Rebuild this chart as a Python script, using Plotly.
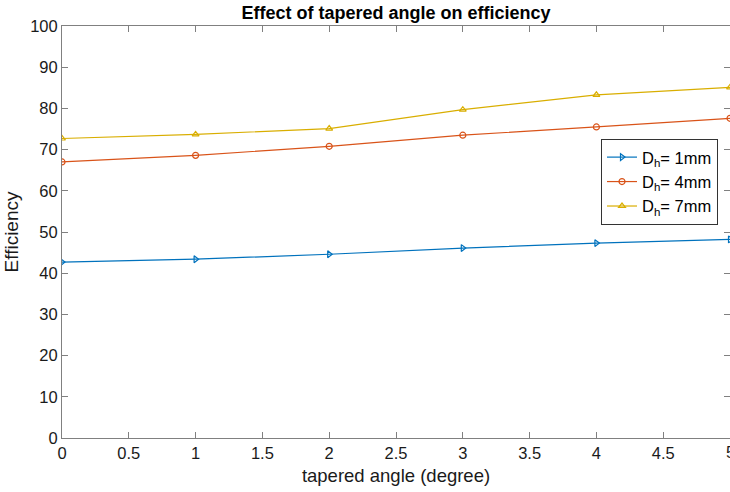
import plotly.graph_objects as go

angles = [0, 1, 2, 3, 4, 5]
eff_1mm = [42.7, 43.4, 44.6, 46.1, 47.3, 48.2]
eff_4mm = [67.0, 68.6, 70.8, 73.5, 75.5, 77.6]
eff_7mm = [72.7, 73.7, 75.1, 79.7, 83.3, 85.1]
names = ["D<sub>h</sub>= 1mm", "D<sub>h</sub>= 4mm", "D<sub>h</sub>= 7mm"]
colors = ["#0072BD", "#D95319", "#D9AE00"]
symbols = ["triangle-right-open", "circle-open", "triangle-up-open"]
x_ticks = [0, 0.5, 1, 1.5, 2, 2.5, 3, 3.5, 4, 4.5]
x_ticktext = ["0", "0.5", "1", "1.5", "2", "2.5", "3", "3.5", "4", "4.5"]
y_ticks = list(range(0, 101, 10))

fig = go.Figure()
for ys, nm, c, s in zip([eff_1mm, eff_4mm, eff_7mm], names, colors, symbols):
    fig.add_trace(go.Scatter(x=angles, y=ys, name=nm, mode="lines+markers",
                             line=dict(color=c, width=1.2),
                             marker=dict(symbol=s, size=6, color=c, line=dict(width=1.2, color=c))))

axis_common = dict(showline=True, linecolor="#808080", linewidth=1, mirror="allticks",
                   ticks="inside", ticklen=6, tickcolor="#808080", showgrid=False, zeroline=False,
                   tickfont=dict(size=16.5, color="#1a1a1a"))
fig.update_layout(
    width=730, height=492,
    margin=dict(l=62, r=0, t=26, b=54, autoexpand=False),
    paper_bgcolor="white", plot_bgcolor="white",
    font=dict(family="Liberation Sans, Arial, sans-serif", color="#1a1a1a"),
    title=dict(text="<b>Effect of tapered angle on efficiency</b>", x=396 / 730,
               xanchor="center", y=1 - 13 / 492, yanchor="middle", font=dict(size=18, color="black")),
    xaxis=dict(range=[0, 5], tickvals=x_ticks, ticktext=x_ticktext, automargin=False,
               title=dict(text="tapered angle (degree)", font=dict(size=18.5), standoff=8), **axis_common),
    yaxis=dict(range=[0, 100], tickvals=y_ticks, automargin=False,
               title=dict(text="Efficiency", font=dict(size=19), standoff=6), **axis_common),
    legend=dict(x=(718 - 62) / 668, y=0.726, xanchor="right", yanchor="top", bgcolor="white",
                bordercolor="#333", borderwidth=1, font=dict(size=16.5, color="black"),
                tracegroupgap=0, itemwidth=30),
    showlegend=True,
)
# tick label at the clipped right edge
fig.add_annotation(x=5, y=0, xref="x", yref="y", text="5", showarrow=False,
                   xanchor="center", yanchor="top", yshift=-3, font=dict(size=16.5, color="#1a1a1a"))
fig.write_html("out.html")
